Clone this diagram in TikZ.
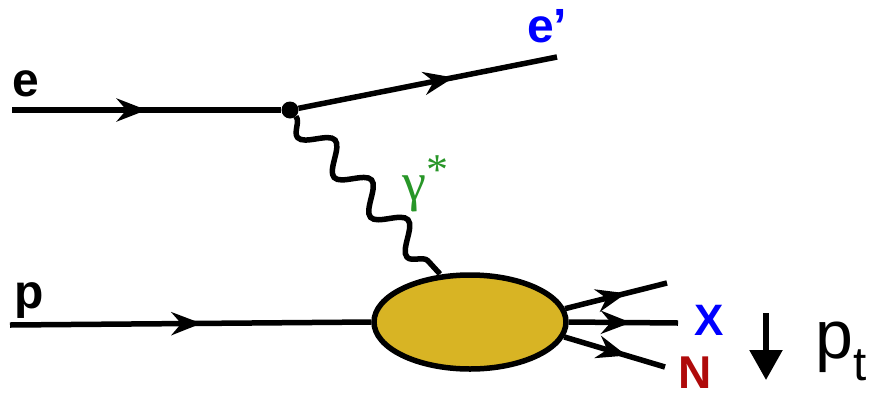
\documentclass[tikz,border=0pt]{standalone}
\usepackage{fontspec}
\setmainfont{Liberation Sans}
\newfontfamily\gammafont{Liberation Serif}
\usetikzlibrary{arrows.meta,decorations.markings,decorations.pathmorphing,shapes.geometric}
\definecolor{blobfill}{RGB}{216,180,36}
\definecolor{gammagreen}{RGB}{40,150,40}
\definecolor{hadronred}{RGB}{175,10,10}
\begin{document}
\begin{tikzpicture}[x=1pt, y=-1pt,
  line/.style={line width=5.5pt},
  fermion/.style={line, postaction={decorate}, decoration={markings, mark=at position #1 with {\arrow{Stealth[length=30pt,width=23pt]}}}},
  photon/.style={line, decorate, decoration={snake, mirror, segment length=54pt, amplitude=13pt}},
  lbl/.style={font=\fontsize{48}{54}\selectfont\bfseries, inner sep=0pt}
]
\useasboundingbox (0,0) rectangle (869,397);
\node[circle, fill, inner sep=0pt, minimum size=17pt] (v) at (290,110) {};
\node[ellipse, draw, line width=5.5pt, fill=blobfill, minimum width=192pt, minimum height=94pt, inner sep=0pt] (blob) at (470,322) {};
\coordinate (ein) at (12,110);
\coordinate (eout) at (557,57);
\coordinate (pin) at (10,325);
\coordinate (gend) at (440,274);
\coordinate (xup) at (667,283);
\coordinate (xmid) at (678,323);
\coordinate (nlow) at (665,367);
\draw[fermion=0.5] (ein) -- (v);
\draw[fermion=0.6] (v) -- (eout);
\draw[photon] (v) -- (gend);
\draw[fermion=0.53] (pin) -- (blob.west);
\draw[fermion=0.6] (blob.8) -- (xup);
\draw[fermion=0.57] (blob.east) -- (xmid);
\draw[fermion=0.62] (blob.351) -- (nlow);
\node[lbl, anchor=base west] (le) at (12,96) {e};
\node[lbl, anchor=base west, text=blue] (leprime) at (527,42) {e’};
\node[lbl, anchor=base west] (lp) at (14,308) {p};
\node[font=\fontsize{54}{60}\selectfont\gammafont, text=gammagreen, inner sep=0pt, anchor=base west] (lgamma) at (402,200) {γ\raisebox{0.28em}{\fontsize{44}{48}\selectfont *}};
\node[lbl, anchor=base west, text=blue, font=\fontsize{44}{50}\selectfont\bfseries] (lx) at (694,335) {X};
\node[lbl, anchor=base west, text=hadronred, font=\fontsize{46}{52}\selectfont\bfseries] (ln) at (678,388) {N};
\coordinate (pttop) at (766,313);
\coordinate (ptbot) at (766,380);
\draw[line, -{Triangle[length=30pt,width=32pt]}] (pttop) -- (ptbot);
\node[font=\fontsize{68}{74}\selectfont, inner sep=0pt, anchor=base west] (lpt) at (815,358) {p\textsubscript{t}};
\end{tikzpicture}
\end{document}
